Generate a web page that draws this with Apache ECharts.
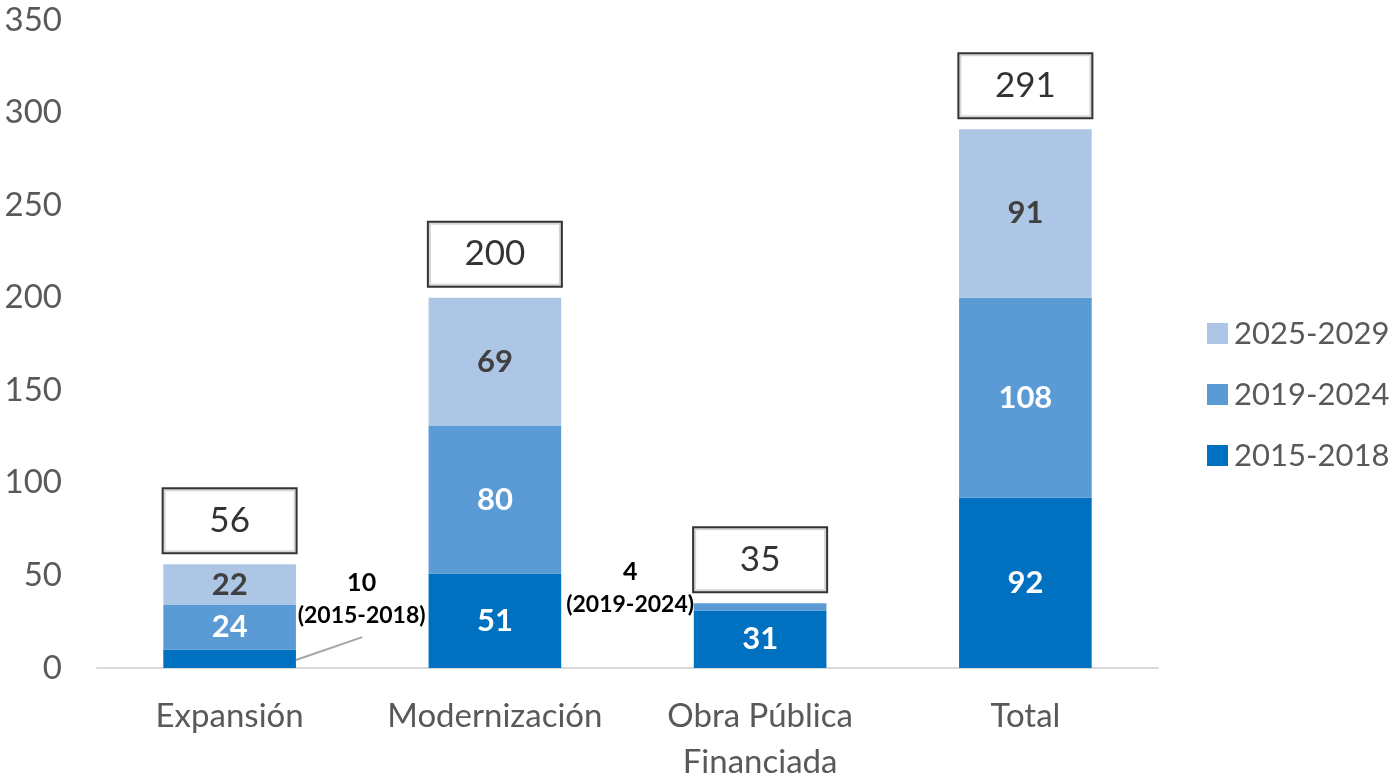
<!DOCTYPE html>
<html lang="es">
<head>
    <meta charset="UTF-8">
    <title>Inversión por periodo</title>
    <style type="text/css">
        html, body { margin: 0; padding: 0; background: #fff; }
        #chart { width: 1396px; height: 779px; }
    </style>
    <script src="https://cdn.jsdelivr.net/npm/echarts@6/dist/echarts.min.js"></script>
</head>
<body>
<div id="chart"></div>
<script type="application/javascript">
    var categories = ['Expansión', 'Modernización', 'Obra Pública\nFinanciada', 'Total'];
    var periods = ['2015-2018', '2019-2024', '2025-2029'];
    var v2015 = [10, 51, 31, 92];
    var v2019 = [24, 80, 4, 108];
    var v2025 = [22, 69, 0, 91];
    var totals = [56, 200, 35, 291];
    // connector for the "10 (2015-2018)" callout, in (category position, value)
    var calloutLine = [[0.25, 4.3], [0.5, 16.7]];
    var colors = ['#0070C0', '#5B9BD5', '#ADC6E5'];

    var fontName = 'Lato, "Open Sans", sans-serif';

    // small segments get their label outside, with the period under the value
    var calloutLabel = {
        show: true,
        position: 'inside',
        formatter: function (p) { return '{a|' + p.value + '}\n{b|(' + p.seriesName + ')}'; },
        rich: {
            a: { fontSize: 25, fontWeight: 'bold', color: '#000', fontFamily: fontName, lineHeight: 34 },
            b: { fontSize: 23, fontWeight: 'bold', color: '#000', fontFamily: fontName, lineHeight: 32 }
        }
    };

    function buildData(values, series) {
        return values.map(function (v, i) {
            if (v === 0) return { value: v, label: { show: false } };
            if (series === 0 && i === 0) return { value: v, label: calloutLabel };
            if (series === 1 && i === 2) return { value: v, label: calloutLabel };
            return v;
        });
    }

    function segLabel(color) {
        return {
            show: true,
            position: 'inside',
            color: color,
            fontSize: 31,
            fontWeight: 'bold',
            fontFamily: fontName
        };
    }

    var chart = echarts.init(document.getElementById('chart'));
    var option = {
        animation: false,
        textStyle: { fontFamily: fontName },
        grid: { left: 97, right: 238, top: 20, bottom: 111, containLabel: false, outerBoundsMode: 'none' },
        legend: {
            orient: 'vertical',
            left: 1202,
            top: 313,
            data: ['2025-2029', '2019-2024', '2015-2018'],
            icon: 'rect',
            itemWidth: 21,
            itemHeight: 21,
            itemGap: 30,
            textStyle: { fontSize: 31, color: '#595959', fontFamily: fontName, padding: [0, 0, 0, 1] }
        },
        xAxis: [{
            type: 'category',
            data: categories,
            axisLine: { lineStyle: { color: '#D9D9D9', width: 2 } },
            axisTick: { show: false },
            axisLabel: { interval: 0, fontSize: 33, color: '#595959', margin: 25, lineHeight: 46, fontFamily: fontName }
        }, {
            type: 'value',
            min: -0.5,
            max: 3.5,
            show: false
        }],
        yAxis: {
            type: 'value',
            min: 0,
            max: 350,
            interval: 50,
            splitLine: { show: false },
            axisLine: { show: false },
            axisTick: { show: false },
            axisLabel: { fontSize: 33, color: '#595959', margin: 35, fontFamily: fontName }
        },
        series: [
            {
                name: periods[0],
                type: 'bar',
                stack: 'total',
                barWidth: '50%',
                itemStyle: { color: colors[0] },
                label: segLabel('#FFFFFF'),
                labelLayout: function (p) {
                    if (p.dataIndex === 0) return { dx: 132, dy: -60 };
                    return {};
                },
                data: buildData(v2015, 0)
            },
            {
                name: periods[1],
                type: 'bar',
                stack: 'total',
                barWidth: '50%',
                itemStyle: { color: colors[1] },
                label: segLabel('#FFFFFF'),
                labelLayout: function (p) {
                    if (p.dataIndex === 2) return { dx: -130, dy: -19 };
                    return {};
                },
                data: buildData(v2019, 1)
            },
            {
                name: periods[2],
                type: 'bar',
                stack: 'total',
                barWidth: '50%',
                itemStyle: { color: colors[2] },
                label: segLabel('#404040'),
                data: buildData(v2025, 2)
            },
            {
                name: 'callout',
                type: 'line',
                xAxisIndex: 1,
                silent: true,
                symbol: 'none',
                lineStyle: { color: '#A6A6A6', width: 2 },
                z: 5,
                data: calloutLine
            },
            {
                name: 'Total',
                type: 'scatter',
                symbolSize: 0,
                silent: true,
                z: 10,
                label: {
                    show: true,
                    position: 'top',
                    distance: 12,
                    color: '#000',
                    fontSize: 35,
                    fontFamily: fontName,
                    backgroundColor: '#fff',
                    borderColor: '#000',
                    borderWidth: 2,
                    width: 132,
                    height: 63,
                    lineHeight: 63,
                    align: 'center',
                    padding: 0
                },
                data: totals
            }
        ]
    };
    chart.setOption(option);
</script>
</body>
</html>
